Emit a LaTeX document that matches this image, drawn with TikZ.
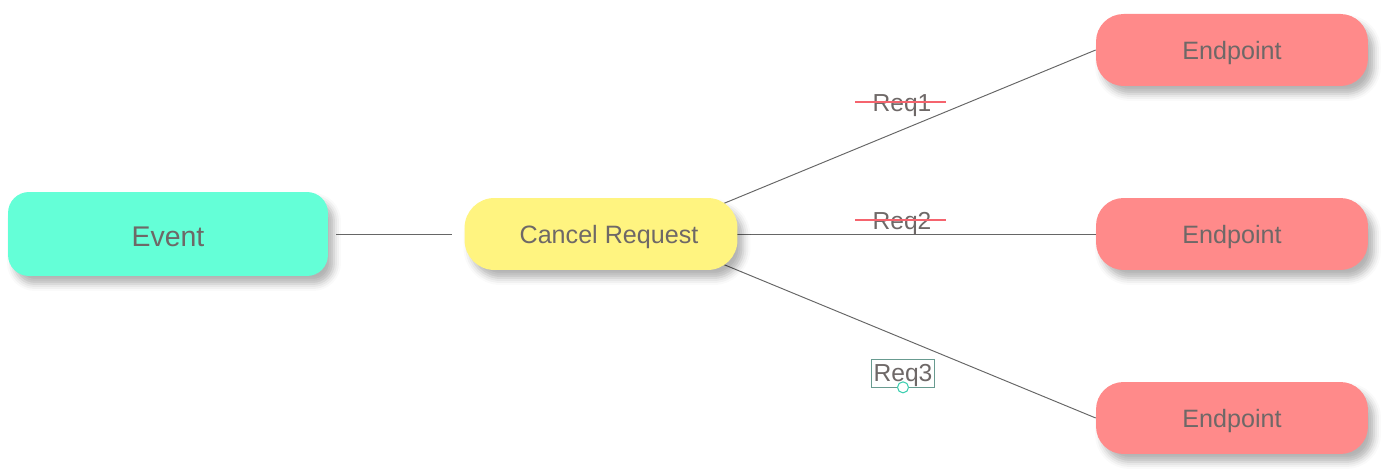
\documentclass[tikz,border=0pt]{standalone}
\usepackage{fontspec}
\setmainfont{Liberation Sans}
\usetikzlibrary{shadows.blur,backgrounds}
\definecolor{eventcolor}{HTML}{64FFD7}
\definecolor{cancelcolor}{HTML}{FFF480}
\definecolor{endcolor}{HTML}{FF8A8A}
\definecolor{labelgray}{HTML}{6E6867}
\definecolor{strikered}{HTML}{F5646E}
\definecolor{pickteal}{HTML}{3CCFB0}

\begin{document}
\begin{tikzpicture}[x=0.02cm, y=-0.02cm]
    % 设置样式
    \tikzset{
        box/.style={text=labelgray, rounded corners=0.42cm, text depth=0pt,
            blur shadow={shadow xshift=0.12cm, shadow yshift=-0.16cm, shadow blur radius=0.14cm, shadow opacity=30}},
        event/.style={box, fill=eventcolor, minimum width=6.4cm, minimum height=1.68cm, text height=0.52cm, font=\fontsize{16.2}{19}\selectfont},
        cancel/.style={box, fill=cancelcolor, rounded corners=0.6cm, minimum width=5.46cm, minimum height=1.44cm, font=\fontsize{14.3}{17}\selectfont},
        endpoint/.style={box, fill=endcolor, rounded corners=0.55cm, minimum width=5.44cm, minimum height=1.44cm, font=\fontsize{14.3}{17}\selectfont},
        link/.style={draw=black!60, line width=0.55pt},
        req/.style={text=labelgray, inner sep=0pt, text depth=0pt, font=\fontsize{14}{17}\selectfont},
        strike/.style={draw=strikered, line width=1.4pt},
    }

    % 固定画布大小
    \path[use as bounding box] (0,0) rectangle (1400,475);

    % 事件和取消请求
    \node[event] (event) at (168,234) {Event};
    \node[cancel] (cancel) at (601,234) {\hspace*{0.32cm}Cancel Request};

    % 三个端点
    \foreach \i/\y in {1/50, 2/234, 3/418} {
        \node[endpoint] (ep\i) at (1232,\y) {Endpoint};
    }

    % 连线
    \draw[link, shorten <=0.16cm, shorten >=0.24cm] (event) -- (cancel);
    \begin{scope}[on background layer]
        \foreach \a/\i in {north east/1, east/2, south east/3} {
            \draw[link, shorten <=-0.3cm] (cancel.\a) -- (ep\i.west);
        }
    \end{scope}

    % 请求标签 (前两个被划掉)
    \node[req] (req1) at (902,103) {Req1};
    \node[req] (req2) at (902,221) {Req2};
    \foreach \r in {req1, req2} {
        \draw[strike] ([xshift=-0.34cm, yshift=0.02cm]\r.west) -- ([xshift=0.28cm, yshift=0.02cm]\r.east);
    }

    % 选中的 Req3
    \node[req, draw=pickteal!35!gray, inner xsep=0.04cm, minimum height=0.56cm] (req3) at (903,373) {Req3};
    \node[circle, draw=pickteal, fill=white, line width=0.6pt, minimum size=0.22cm, inner sep=0pt] (handle) at (req3.south) {};
\end{tikzpicture}
\end{document}
